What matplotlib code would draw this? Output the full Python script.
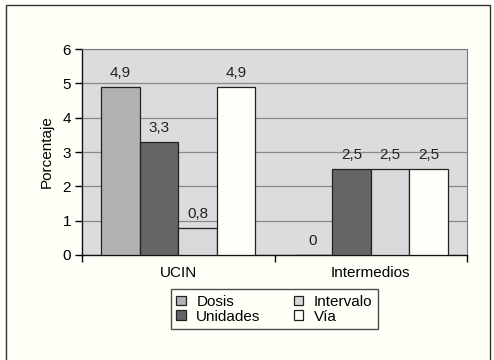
import matplotlib
matplotlib.use('Agg')
import matplotlib.pyplot as plt
from matplotlib.patches import Rectangle
import numpy as np

categories = ['UCIN', 'Intermedios']
series = ['Dosis', 'Unidades', 'Intervalo', 'Vía']
dosis = [4.9, 0]
unidades = [3.3, 2.5]
intervalo = [0.8, 2.5]
via = [4.9, 2.5]
yticks = [0, 1, 2, 3, 4, 5, 6]

values = [dosis, unidades, intervalo, via]
colors = ['#b1b3b3', '#646566', '#d9d9db', '#fffffa']

plt.rcParams['font.family'] = ['Liberation Sans', 'DejaVu Sans']
bg = '#fffef7'

fig = plt.figure(figsize=(4.94, 3.60), dpi=100, facecolor=bg)
ax = fig.add_axes([82 / 494, 1 - 255 / 360, 385 / 494, 206 / 360])
ax.set_facecolor('#dcdcde')

# outer frame around the whole figure
fig.patches.append(Rectangle((6 / 494, -0.05), 484 / 494, 1.05 - 5 / 360,
                             transform=fig.transFigure, fill=False,
                             edgecolor='#333333', linewidth=1.0))

fs = 11
x = np.arange(len(categories))
width = 0.2
offsets = [-0.3, -0.1, 0.1, 0.3]
for name, vals, col, off in zip(series, values, colors, offsets):
    bars = ax.bar(x + off, vals, width, color=col, edgecolor='#222222',
                  linewidth=0.9, label=name, zorder=3)
    for b, v in zip(bars, vals):
        ax.annotate(f'{v:g}'.replace('.', ','), (b.get_x() + b.get_width() / 2, v),
                    xytext=(0, 5), textcoords='offset points', ha='center',
                    va='bottom', fontsize=fs, color='#222222')

ax.set_ylim(0, 6)
ax.set_yticks(yticks)
ax.set_xlim(-0.5, 1.5)
ax.yaxis.grid(True, color='#8a8a8a', linewidth=0.9, zorder=0)
ax.set_axisbelow(True)

ax.set_xticks([-0.5, 0.5, 1.5])
ax.set_xticklabels([])
ax.set_xticks(x, minor=True)
ax.set_xticklabels(categories, minor=True)
ax.tick_params(axis='x', which='minor', length=0, labelsize=fs, pad=8)
ax.tick_params(axis='x', which='major', length=5, width=1, direction='out')
ax.tick_params(axis='y', length=5, width=1, labelsize=fs, pad=3)
ax.set_ylabel('Porcentaje', fontsize=fs, labelpad=6)

for s in ['top', 'right']:
    ax.spines[s].set_color('#7a7a7a')
for s in ['left', 'bottom']:
    ax.spines[s].set_color('#111111')
    ax.spines[s].set_linewidth(1.0)

leg = ax.legend(loc='upper center', bbox_to_anchor=(0.5, -0.13), ncol=2,
                frameon=True, fancybox=False, fontsize=fs, handlelength=0.6,
                handleheight=0.6, handletextpad=0.7, columnspacing=2.2,
                labelspacing=0.05, borderpad=0.35, edgecolor='#222222')
leg.get_frame().set_facecolor(bg)
leg.get_frame().set_linewidth(1.0)

fig.savefig('out.png', dpi=100, facecolor=bg)
